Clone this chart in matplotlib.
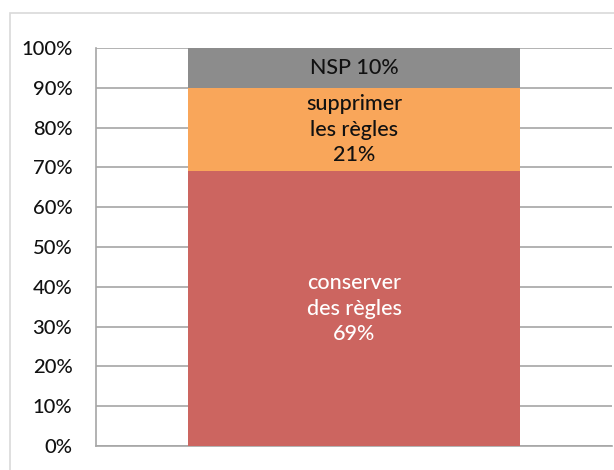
import matplotlib
matplotlib.use("Agg")
import matplotlib.pyplot as plt
from matplotlib.patches import Rectangle

plt.rcParams['font.family'] = ['Lato', 'DejaVu Sans']

categories = ["conserver\ndes règles", "supprimer\nles règles", "NSP"]
values = [69, 21, 10]
colors = ["#CC6560", "#F9A65A", "#8C8C8C"]
text_colors = ["white", "#111111", "#111111"]
yticks = [0, 10, 20, 30, 40, 50, 60, 70, 80, 90, 100]
ytick_labels = [f"{v}%" for v in yticks]

fig = plt.figure(figsize=(6.14, 4.70), dpi=100)
# outer frame
fig.patches.append(Rectangle((10/614, -0.1), 1.2, (470-13)/470 + 0.1, transform=fig.transFigure,
                             fill=False, edgecolor="#D9D9D9", linewidth=1.2))
ax = fig.add_axes([96/614, 1-446/470, (612-96)/614, (446-48)/470])

bottom = 0
for cat, v, c, tc in zip(categories, values, colors, text_colors):
    ax.bar(0, v, bottom=bottom, width=0.643, color=c, zorder=3)
    if cat == "NSP":
        label = f"{cat} {v}%"
    else:
        label = f"{cat}\n{v}%"
    ax.text(0, bottom + v/2, label, ha="center", va="center", color=tc,
            fontsize=15.5, fontweight="medium", linespacing=1.35, zorder=4)
    bottom += v

ax.set_xlim(-0.5, 0.5)
ax.set_ylim(0, 100)
ax.set_yticks(yticks)
ax.set_yticklabels(ytick_labels, fontsize=14.5, fontweight="medium")
ax.set_xticks([])
ax.yaxis.grid(True, color="#A6A6A6", linewidth=1.2, zorder=0)
ax.set_axisbelow(True)
for s in ["top", "right"]:
    ax.spines[s].set_visible(False)
for s in ["left", "bottom"]:
    ax.spines[s].set_color("#A6A6A6")
    ax.spines[s].set_linewidth(1.2)
ax.tick_params(axis="y", length=0, pad=17, colors="#111111")

fig.savefig("out.png", dpi=100)
